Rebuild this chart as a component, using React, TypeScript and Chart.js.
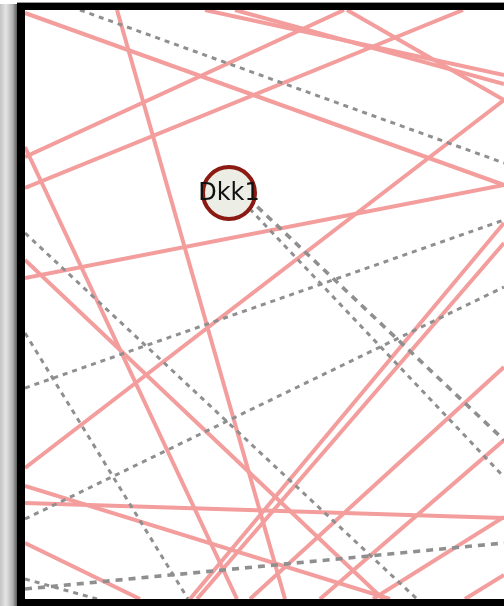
import { useEffect, useRef } from "react";
import { Chart, registerables } from "chart.js";

Chart.register(...registerables);

// Node of the network view
const nodeNames = ["Dkk1"];
const nodeX = [229];
const nodeY = [193];

// Solid (pink) edges: endpoints in view coordinates
const solidFromX = [25, 25, 25, 25, 347, 205, 235, 117, 25, 25, 25, 25, 25, 25, 190, 197, 250, 320, 373, 465];
const solidFromY = [13, 278, 157, 188, 10, 10, 10, 10, 147, 260, 468, 486, 503, 543, 599, 599, 599, 599, 599, 599];
const solidToX = [504, 504, 344, 463, 504, 504, 504, 285, 237, 383, 504, 390, 504, 140, 504, 504, 504, 504, 504, 504];
const solidToY = [185, 185, 10, 10, 100, 75, 84, 599, 599, 599, 100, 599, 518, 599, 223, 243, 367, 440, 517, 575];

// Dashed (grey) edges
const dashedFromX = [80, 229, 229, 25, 25, 25, 25, 25, 25];
const dashedFromY = [10, 180, 187, 233, 388, 519, 333, 589, 579];
const dashedToX = [504, 504, 504, 417, 504, 504, 188, 504, 97];
const dashedToY = [163, 440, 477, 599, 220, 287, 599, 543, 599];

const heavyDashed = new Set([1, 7]);

export default function App() {
  const ref = useRef<HTMLCanvasElement>(null);

  useEffect(() => {
    document.body.style.margin = "0";
    const datasets: any[] = [];

    datasets.push({
      label: nodeNames[0],
      data: nodeX.map((x, i) => ({ x, y: nodeY[i] })),
      showLine: false,
      pointRadius: 26,
      pointHoverRadius: 26,
      pointBorderWidth: 4,
      pointBackgroundColor: "#eceee6",
      pointBorderColor: "#8b1a12",
      clip: false,
    });

    dashedFromX.forEach((_, i) => {
      const heavy = heavyDashed.has(i);
      datasets.push({
        label: "dashed" + i,
        data: [
          { x: dashedFromX[i], y: dashedFromY[i] },
          { x: dashedToX[i], y: dashedToY[i] },
        ],
        showLine: true,
        borderColor: "#8f8f8f",
        borderWidth: heavy ? 3.6 : 3,
        borderDash: heavy ? [7, 6] : [5, 5],
        pointRadius: 0,
        pointHoverRadius: 0,
        fill: false,
      });
    });

    solidFromX.forEach((_, i) => {
      datasets.push({
        label: "solid" + i,
        data: [
          { x: solidFromX[i], y: solidFromY[i] },
          { x: solidToX[i], y: solidToY[i] },
        ],
        showLine: true,
        borderColor: "#f39d9d",
        borderWidth: 4,
        pointRadius: 0,
        pointHoverRadius: 0,
        fill: false,
      });
    });

    const labelPlugin = {
      id: "nodeLabels",
      afterDatasetsDraw(chart: any) {
        const ctx = chart.ctx;
        const xs = chart.scales.x;
        const ys = chart.scales.y;
        ctx.save();
        ctx.font = '24px "DejaVu Sans"';
        ctx.fillStyle = "#111";
        ctx.textAlign = "center";
        ctx.textBaseline = "middle";
        nodeNames.forEach((name, i) => {
          ctx.fillText(name, xs.getPixelForValue(nodeX[i]), ys.getPixelForValue(nodeY[i]) + 1);
        });
        ctx.restore();
      },
    };

    const chart = new Chart(ref.current!, {
      type: "scatter",
      data: { datasets },
      options: {
        animation: false,
        responsive: false,
        devicePixelRatio: 1,
        events: [],
        layout: { padding: 0, autoPadding: false },
        plugins: { legend: { display: false }, tooltip: { enabled: false } },
        scales: {
          x: { type: "linear", min: 25, max: 504, display: false },
          y: { type: "linear", min: 10, max: 599, reverse: true, display: false },
        },
      },
      plugins: [labelPlugin],
    });
    return () => chart.destroy();
  }, []);

  return (
    <div style={{ position: "absolute", left: 0, top: 0, width: 504, height: 606, background: "#fff", overflow: "hidden" }}>
      <div
        style={{
          position: "absolute",
          left: 0,
          top: 4,
          width: 17,
          height: 602,
          background: "linear-gradient(to right, #c4c4c4 0%, #e4e4e4 35%, #b0b0b0 75%, #5a5a5a 100%)",
        }}
      />
      <div style={{ position: "absolute", left: 17, top: 2, width: 487, height: 1, background: "#9a9a9a" }} />
      <div style={{ position: "absolute", left: 17, top: 3, width: 487, height: 7, background: "#000" }} />
      <div style={{ position: "absolute", left: 17, top: 3, width: 8, height: 603, background: "#000" }} />
      <div style={{ position: "absolute", left: 17, top: 599, width: 487, height: 7, background: "#000" }} />
      <div style={{ position: "absolute", left: 25, top: 10, width: 479, height: 589 }}>
        <canvas ref={ref} width={479} height={589} style={{ display: "block", width: 479, height: 589 }} />
      </div>
    </div>
  );
}
